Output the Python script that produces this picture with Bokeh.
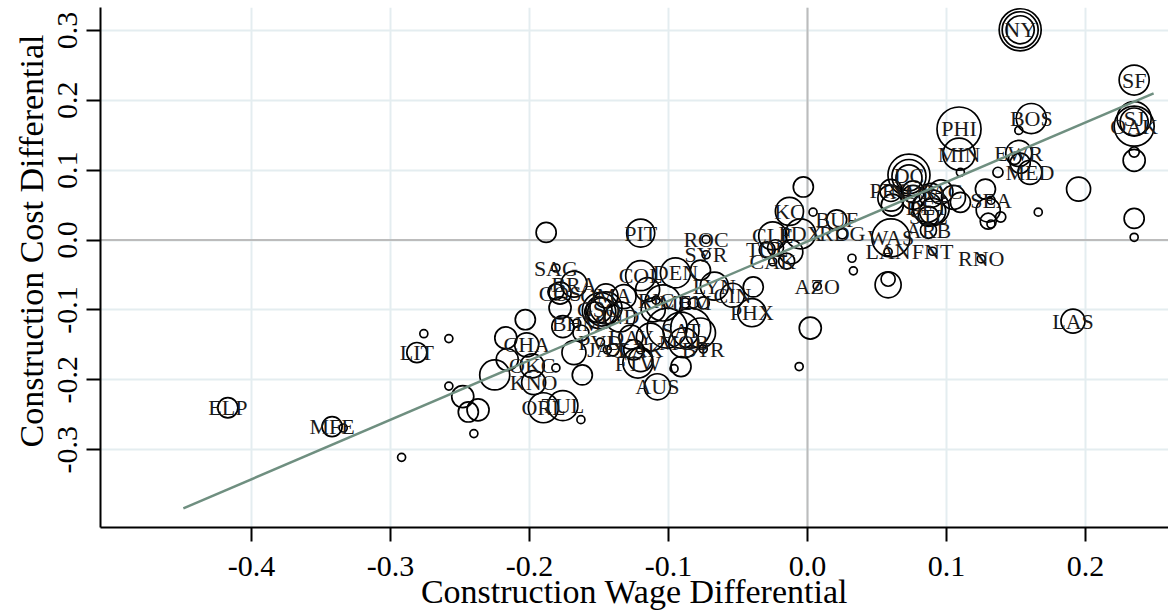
import math
from bokeh.plotting import figure
from bokeh.models import FixedTicker, NumeralTickFormatter, Span, ColumnDataSource, Range1d, Title
from bokeh.core.properties import value
from bokeh.embed import file_html
from bokeh.resources import INLINE

# ---------------- data ----------------
city = [
    "NY", "", "", "SF", "SJ", "OAK", "", "", "", "", "", "", "", "BOS", "",
    "PHI", "MIN", "", "EWR", "", "MED", "", "", "DC", "", "",
    "PRO", "", "", "NOR", "", "SAC", "", "", "", "DET", "", "", "STL", "ARB", "SEA", "", "", "", "", "",
    "WAS", "LAN", "FNT", "", "", "", "", "RNO", "LAS",
    "KC", "", "", "BUF", "RDG", "CLE", "PDX", "TOL", "", "", "CAK", "", "AZO", "", "",
    "PHX", "", "CIN", "LYN", "ROC", "SYR", "", "DEN", "COL", "PIT",
    "", "SAG", "BRA", "COS", "", "", "OMA", "GSO", "", "", "", "", "", "BHM", "IND", "", "", "RIC", "", "",
    "", "SAT", "", "", "MOB", "", "DAY", "", "", "", "MEM", "", "", "", "", "", "PVD", "JAX", "LAK", "FTW", "AUS", "BTR",
    "CHA", "OKC", "KNO", "", "", "", "", "", "", "", "ORL", "TUL", "", "", "", "", "", "", "LIT", "ELP", "MFE", "", "", "", "",
]
wage_diff = [
    0.153, 0.153, 0.153, 0.235, 0.235, 0.235, 0.235, 0.235, 0.235, 0.195, 0.166, 0.235, 0.235, 0.161, 0.152,
    0.109, 0.109, 0.110, 0.152, 0.153, 0.160, 0.149, 0.137, 0.073, 0.073, 0.073,
    0.060, 0.060, 0.061, 0.076, 0.076, 0.096, 0.089, 0.105, 0.110, 0.086, 0.089, 0.090, 0.087, 0.087, 0.132, 0.128, 0.130, 0.130, 0.139, 0.132,
    0.060, 0.058, 0.090, 0.032, 0.033, 0.058, 0.058, 0.125, 0.191,
    -0.013, -0.003, 0.004, 0.021, 0.025, -0.025, -0.005, -0.029, -0.023, -0.012, -0.025, -0.015, 0.007, 0.002, -0.006,
    -0.040, -0.039, -0.054, -0.067, -0.073, -0.073, -0.077, -0.095, -0.120, -0.120,
    -0.188, -0.181, -0.168, -0.178, -0.178, -0.176, -0.145, -0.150, -0.149, -0.148, -0.153, -0.145, -0.163, -0.166, -0.135, -0.132, -0.115, -0.109, -0.104, -0.111,
    -0.101, -0.091, -0.084, -0.077, -0.089, -0.113, -0.127, -0.125, -0.140, -0.120, -0.088, -0.082, -0.075, -0.168, -0.096, -0.091, -0.149, -0.144, -0.120, -0.122, -0.108, -0.075,
    -0.202, -0.198, -0.197, -0.203, -0.217, -0.216, -0.225, -0.181, -0.162, -0.163, -0.190, -0.176, -0.258, -0.248, -0.244, -0.237, -0.276, -0.258, -0.281, -0.417, -0.342, -0.334, -0.292, -0.240, -0.181,
]
cost_diff = [
    0.301, 0.301, 0.301, 0.229, 0.174, 0.163, 0.169, 0.126, 0.114, 0.073, 0.040, 0.031, 0.004, 0.174, 0.157,
    0.159, 0.123, 0.097, 0.124, 0.110, 0.097, 0.117, 0.097, 0.093, 0.091, 0.089,
    0.071, 0.060, 0.050, 0.069, 0.061, 0.069, 0.064, 0.061, 0.054, 0.047, 0.046, 0.041, 0.034, 0.014, 0.057, 0.073, 0.043, 0.027, 0.033, 0.023,
    0.003, -0.017, -0.016, -0.026, -0.044, -0.064, -0.056, -0.027, -0.116,
    0.041, 0.076, 0.040, 0.029, 0.009, 0.006, 0.009, -0.014, -0.011, -0.017, -0.031, -0.030, -0.066, -0.126, -0.181,
    -0.104, -0.067, -0.079, -0.066, 0.001, -0.021, -0.043, -0.047, -0.051, 0.010,
    0.011, -0.040, -0.063, -0.076, -0.097, -0.124, -0.080, -0.100, -0.101, -0.103, -0.103, -0.097, -0.133, -0.119, -0.110, -0.081, -0.071, -0.086, -0.090, -0.100,
    -0.126, -0.129, -0.126, -0.133, -0.147, -0.139, -0.139, -0.157, -0.157, -0.171, -0.090, -0.090, -0.090, -0.161, -0.184, -0.181, -0.146, -0.157, -0.157, -0.176, -0.210, -0.156,
    -0.150, -0.180, -0.204, -0.114, -0.140, -0.171, -0.193, -0.183, -0.193, -0.257, -0.240, -0.237, -0.209, -0.224, -0.246, -0.243, -0.134, -0.141, -0.161, -0.240, -0.267, -0.269, -0.311, -0.277, -0.074,
]
pop = [
    27.6, 20.3, 12.3, 14.1, 18.1, 25.0, 12.3, 1.6, 7.6, 9.0, 1.0, 6.3, 1.0, 14.1, 1.0,
    30.3, 16.0, 1.0, 10.6, 6.3, 9.0, 2.3, 1.6, 27.6, 18.1, 10.6,
    7.6, 10.6, 7.6, 7.6, 9.0, 9.0, 9.0, 9.0, 6.3, 14.1, 20.3, 10.6, 6.3, 4.0, 1.0, 6.3, 9.0, 4.0, 1.6, 1.0,
    22.6, 1.0, 1.0, 1.0, 1.0, 10.6, 3.1, 1.0, 9.0,
    12.3, 6.3, 1.0, 6.3, 1.6, 12.3, 14.1, 4.0, 4.0, 9.0, 1.0, 4.0, 1.0, 7.6, 1.0,
    12.3, 6.3, 9.0, 12.3, 1.0, 1.0, 6.3, 14.1, 14.1, 12.3,
    6.3, 1.0, 10.6, 7.6, 7.6, 7.6, 9.0, 10.6, 20.3, 12.3, 6.3, 16.0, 4.0, 1.0, 14.1, 9.0, 9.0, 1.0, 20.3, 9.0,
    25.0, 20.3, 25.0, 14.1, 14.1, 12.3, 9.0, 6.3, 2.3, 9.0, 1.6, 1.6, 2.3, 9.0, 1.0, 6.3, 1.0, 1.0, 1.0, 14.1, 10.6, 1.0,
    9.0, 9.0, 9.0, 6.3, 7.6, 7.6, 14.1, 1.0, 6.3, 1.0, 14.1, 14.1, 1.0, 7.6, 6.3, 7.6, 1.0, 1.0, 6.3, 6.3, 6.3, 1.0, 1.0, 1.0, 4.0,
]

# fitted line (endpoints)
fit_x = [-0.449, 0.249]
fit_y = [-0.384, 0.210]

x_ticks = [-0.4, -0.3, -0.2, -0.1, 0.0, 0.1, 0.2]
y_ticks = [-0.3, -0.2, -0.1, 0.0, 0.1, 0.2, 0.3]

x_title = "Construction Wage Differential"
y_title = "Construction Cost Differential"

assert len(city) == len(wage_diff) == len(cost_diff) == len(pop)

FONT = "Liberation Serif"

src = ColumnDataSource(dict(
    x=wage_diff, y=cost_diff, city=city,
    d=[8.0 * math.sqrt(w) for w in pop],
))

p = figure(
    width=1168, height=612,
    x_range=Range1d(-0.5086, 0.2597), y_range=Range1d(-0.4114, 0.3329),
    output_backend="svg", toolbar_location=None,
    min_border_left=100, min_border_right=0, min_border_top=7, min_border_bottom=84,
)
p.outline_line_color = None
p.background_fill_color = "white"
p.border_fill_color = "white"

for g, t in ((p.xgrid, x_ticks), (p.ygrid, y_ticks)):
    g.ticker = FixedTicker(ticks=t)
    g.grid_line_color = "#e4edf0"
    g.grid_line_width = 2

p.xaxis.ticker = FixedTicker(ticks=x_ticks)
p.yaxis.ticker = FixedTicker(ticks=y_ticks)
p.axis.formatter = NumeralTickFormatter(format="0.0")
p.axis.minor_tick_line_color = None
p.axis.major_tick_out = 14
p.axis.major_tick_in = 0
p.axis.axis_line_width = 2
p.axis.major_tick_line_width = 2
p.axis.axis_line_color = "black"
p.axis.major_tick_line_color = "black"
p.axis.major_label_text_font = FONT
p.axis.major_label_text_font_size = "30px"
p.axis.major_label_text_color = "black"
p.xaxis.major_label_standoff = 15
p.yaxis.major_label_standoff = 9
p.yaxis.major_label_orientation = "vertical"

p.xaxis.axis_label = x_title
p.xaxis.axis_label_text_font = FONT
p.xaxis.axis_label_text_font_size = "34px"
p.xaxis.axis_label_text_font_style = "normal"
p.xaxis.axis_label_text_color = "black"
p.xaxis.axis_label_standoff = -6

# y title as a side title so it can be shifted up like Stata's
p.add_layout(Title(text=y_title, align="left", offset=80, standoff=12,
                   text_font=FONT, text_font_size="34px", text_font_style="normal",
                   text_color="black"), "left")

p.add_layout(Span(location=0, dimension="height", line_color="#bcbcbc", line_width=2, level="underlay"))
p.add_layout(Span(location=0, dimension="width", line_color="#bcbcbc", line_width=2, level="underlay"))

p.scatter("x", "y", size="d", source=src, marker="circle",
          fill_color=None, line_color="black", line_width=1.7)
p.text("x", "y", text="city", source=src, text_font=value(FONT), text_font_size="22px",
       text_align="center", text_baseline="middle", text_color="#1a1a1a")
p.line(fit_x, fit_y, line_color="#6f8f80", line_width=2.5)

open("out.html", "w").write(file_html(p, INLINE))
